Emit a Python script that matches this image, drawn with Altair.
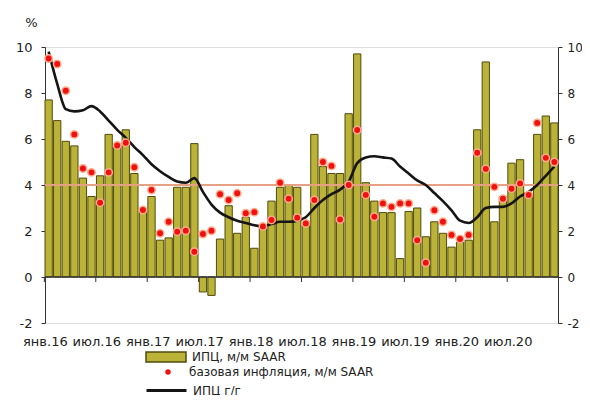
import altair as alt
import pandas as pd

# ---------------- data ----------------
MONTHS_RU = ["янв", "фев", "мар", "апр", "май", "июн", "июл", "авг", "сен", "окт", "ноя", "дек"]
YEARS = ["16", "17", "18", "19", "20"]
months = [f"{m}.{y}" for y in YEARS for m in MONTHS_RU]
TICK_LABELS = [f"{m}.{y}" for y in YEARS for m in ("янв", "июл")]

cpi_mm = [7.7, 6.8, 5.9, 5.7, 4.3, 3.5, 4.4, 6.2, 5.7, 6.4,
          4.5, 2.8, 3.5, 1.6, 1.7, 3.9, 3.9, 5.8, -0.65, -0.8,
          1.65, 3.1, 1.9, 2.6, 1.25, 2.2, 3.3, 3.9, 4.0, 3.9,
          2.25, 6.2, 4.8, 4.5, 4.5, 7.1, 9.7, 4.1, 3.3, 2.8,
          2.8, 0.8, 2.85, 3.0, 1.75, 2.4, 1.9, 1.3, 1.5, 1.6,
          6.4, 9.35, 2.4, 3.5, 4.95, 5.1, 3.6, 6.2, 7.0, 6.7]

core_mm = [9.5, 9.26, 8.1, 6.2, 4.72, 4.55, 3.23, 4.55, 5.72, 5.84,
           4.77, 2.91, 3.78, 1.9, 2.4, 1.97, 2.01, 1.1, 1.87, 2.01,
           3.6, 3.35, 3.64, 2.77, 2.82, 2.2, 2.48, 4.1, 3.4, 2.58,
           2.33, 3.35, 5.0, 4.83, 2.5, 4.0, 6.39, 3.57, 2.62, 3.2,
           3.05, 3.2, 3.2, 1.6, 0.62, 2.9, 2.4, 1.83, 1.65, 1.83,
           5.4, 4.7, 3.92, 3.4, 3.84, 4.07, 3.57, 6.7, 5.18, 5.0]

cpi_yy = [9.8, 8.4, 7.3, 7.2, 7.25, 7.43, 7.2, 6.8, 6.4, 6.05,
          5.65, 5.3, 4.9, 4.6, 4.35, 4.15, 4.1, 4.3, 3.7, 3.15,
          2.8, 2.6, 2.45, 2.35, 2.25, 2.2, 2.3, 2.4, 2.4, 2.45,
          2.6, 3.0, 3.35, 3.6, 3.8, 4.15, 4.95, 5.2, 5.25, 5.2,
          5.15, 4.8, 4.5, 4.2, 4.0, 3.65, 3.3, 2.9, 2.45, 2.35,
          2.6, 3.0, 3.05, 3.05, 3.2, 3.5, 3.7, 4.0, 4.4, 4.8]

TARGET = 4.0
ZERO = 0

SERIES_BAR = "ИПЦ, м/м SAAR"
SERIES_DOT = "базовая инфляция, м/м SAAR"
SERIES_LINE = "ИПЦ г/г"

df = pd.DataFrame({
    "month": months,
    "cpi_mm": cpi_mm,
    "core_mm": core_mm,
    "cpi_yy": cpi_yy,
})
df["s_bar"] = SERIES_BAR
df["s_dot"] = SERIES_DOT
df["s_line"] = SERIES_LINE
ticks_df = pd.DataFrame({"month": TICK_LABELS})

# ---------------- style ----------------
FONT = "DejaVu Sans"
TXT = "#222222"
AX = "#333333"
BAR_FILL = "#BAB338"
BAR_STROKE = "#4F4B0C"
DOT_FILL = "#EE1111"
DOT_HALO = "#FFAA88"
LINE_COL = "#151515"
TARGET_COL = "#E6A184"

W, H = 513, 276
YDOM = [-2, 10]
YVALS = [-2, 0, 2, 4, 6, 8, 10]
PAD_INNER = 0.15
STEP = W / (len(months) - PAD_INNER)

xscale = alt.Scale(paddingInner=PAD_INNER, paddingOuter=0)
yscale = alt.Scale(domain=YDOM, nice=False, zero=False)

base = alt.Chart(df)

x_label_axis = alt.Axis(orient="bottom", values=TICK_LABELS, labels=True,
                        ticks=False, domain=False, labelAngle=0, labelPadding=12,
                        labelOffset=-STEP / 2 + 1,
                        labelFont=FONT, labelFontSize=13, labelColor=TXT,
                        labelOverlap=False, title=None, grid=False)

left_axis = alt.Axis(values=YVALS, grid=False, domainColor=AX, tickColor=AX, tickSize=4,
                     labelPadding=9, labelFont=FONT, labelFontSize=13, labelColor=TXT,
                     labelExpr="datum.value + ''",
                     title="%", titleAngle=0, titleX=-14, titleY=-25, titleFont=FONT,
                     titleFontSize=13, titleFontWeight="normal", titleColor=TXT,
                     titleAlign="center", titleBaseline="middle")
right_axis = alt.Axis(values=YVALS, orient="right", grid=False, domainColor=AX,
                      tickColor=AX, tickSize=4, labelPadding=5, labelFont=FONT,
                      labelFontSize=12, labelColor=TXT, labelExpr="datum.value + ''",
                      title=None)

bars = base.mark_bar(stroke=BAR_STROKE, strokeWidth=1).encode(
    x=alt.X("month:O", sort=months, scale=xscale, axis=None),
    y=alt.Y("cpi_mm:Q", scale=yscale, axis=left_axis),
    color=alt.Color("s_bar:N", scale=alt.Scale(range=[BAR_FILL]),
                    legend=alt.Legend(title=None, orient="none", legendX=100, legendY=289,
                                      symbolType="M-1,-0.25H1V0.25H-1Z", symbolSize=1600,
                                      symbolStrokeColor=BAR_STROKE, symbolStrokeWidth=1.5,
                                      symbolFillColor=BAR_FILL, labelOffset=5, padding=0,
                                      labelFont=FONT, labelFontSize=12, labelColor=TXT,
                                      labelLimit=400)),
)

# category axis drawn at the zero level (line + small ticks between months)
zero_line = alt.Chart(pd.DataFrame({"v": [ZERO]})).mark_rule(
    color=AX, strokeWidth=1.4
).encode(
    y=alt.Y("v:Q", scale=yscale, axis=None),
)
zero_ticks = alt.Chart(ticks_df).mark_rule(color=AX, strokeWidth=1,
                                           xOffset=-STEP / 2, y2Offset=5).encode(
    x=alt.X("month:O", sort=months, scale=xscale, axis=None),
    y=alt.datum(ZERO, scale=yscale, axis=None),
    y2=alt.datum(ZERO),
)

target = alt.Chart(pd.DataFrame({"v": [TARGET]})).mark_rule(
    color=TARGET_COL, strokeWidth=2
).encode(
    y=alt.Y("v:Q", scale=yscale, axis=None),
)

line = base.mark_line(strokeWidth=2.6, interpolate="monotone").encode(
    x=alt.X("month:O", sort=months, scale=xscale, axis=None),
    y=alt.Y("cpi_yy:Q", scale=yscale, axis=right_axis),
    color=alt.Color("s_line:N", scale=alt.Scale(range=[LINE_COL]),
                    legend=alt.Legend(title=None, orient="none", legendX=100, legendY=322,
                                      symbolType="stroke", symbolSize=1600,
                                      symbolStrokeColor=LINE_COL, symbolStrokeWidth=3,
                                      labelOffset=5, padding=0,
                                      labelFont=FONT, labelFontSize=12, labelColor=TXT,
                                      labelLimit=400)),
)

dots = base.mark_circle(size=55, opacity=1, stroke=DOT_HALO, strokeWidth=1.5).encode(
    x=alt.X("month:O", sort=months, scale=xscale, axis=x_label_axis),
    y=alt.Y("core_mm:Q", scale=yscale, axis=None),
    color=alt.Color("s_dot:N", scale=alt.Scale(range=[DOT_FILL]),
                    legend=alt.Legend(title=None, orient="none", legendX=117, legendY=319,
                                      symbolType="circle", symbolSize=30,
                                      symbolFillColor=DOT_FILL, symbolStrokeColor=DOT_FILL,
                                      symbolStrokeWidth=0, labelOffset=15, padding=0,
                                      labelFont=FONT, labelFontSize=12, labelColor=TXT,
                                      labelLimit=400)),
)

chart = alt.layer(bars, target, zero_line, zero_ticks, line, dots).resolve_scale(
    color="independent"
).resolve_axis(
    x="independent", y="independent"
).properties(
    width=W, height=H,
    autosize=alt.AutoSizeParams(type="none"),
    padding={"left": 37, "top": 39, "right": 24, "bottom": 72},
).configure_view(stroke=None).configure(background="white")

chart.save("out.html", embed_options={"renderer": "svg", "actions": False})
